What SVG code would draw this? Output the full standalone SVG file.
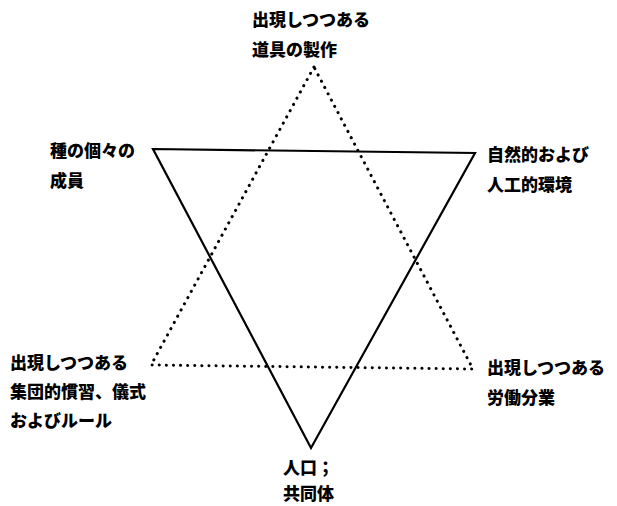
<svg xmlns="http://www.w3.org/2000/svg" width="617" height="506" viewBox="0 0 617 506">
<style>
text{font-family:"Noto Sans CJK JP","Noto Sans CJK SC",sans-serif;font-size:17px;font-weight:900;fill:#000}
.solid{fill:none;stroke:#000;stroke-width:2.2;stroke-linejoin:miter}
.dot{fill:none;stroke:#000;stroke-width:3;stroke-dasharray:0.1 7;stroke-linecap:round}
</style>
<rect width="617" height="506" fill="#fff"/>
<g id="connectors">
<polygon class="solid" points="153,149 475,153 311,448"/>
<polygon class="dot" points="314,67 151,365 473,369"/>
</g>
<g id="n-top"><text x="252" y="26">出現しつつある</text><text x="252" y="56">道具の製作</text></g>
<g id="n-left"><text x="50" y="157">種の個々の</text><text x="50" y="187">成員</text></g>
<g id="n-right"><text x="487" y="161">自然的および</text><text x="487" y="191">人工的環境</text></g>
<g id="n-bl"><text x="10" y="369">出現しつつある</text><text x="10" y="398">集団的慣習、儀式</text><text x="10" y="427">およびルール</text></g>
<g id="n-br"><text x="487" y="374">出現しつつある</text><text x="487" y="404">労働分業</text></g>
<g id="n-bottom"><text x="283" y="474">人口；</text><text x="283" y="500">共同体</text></g>
</svg>
